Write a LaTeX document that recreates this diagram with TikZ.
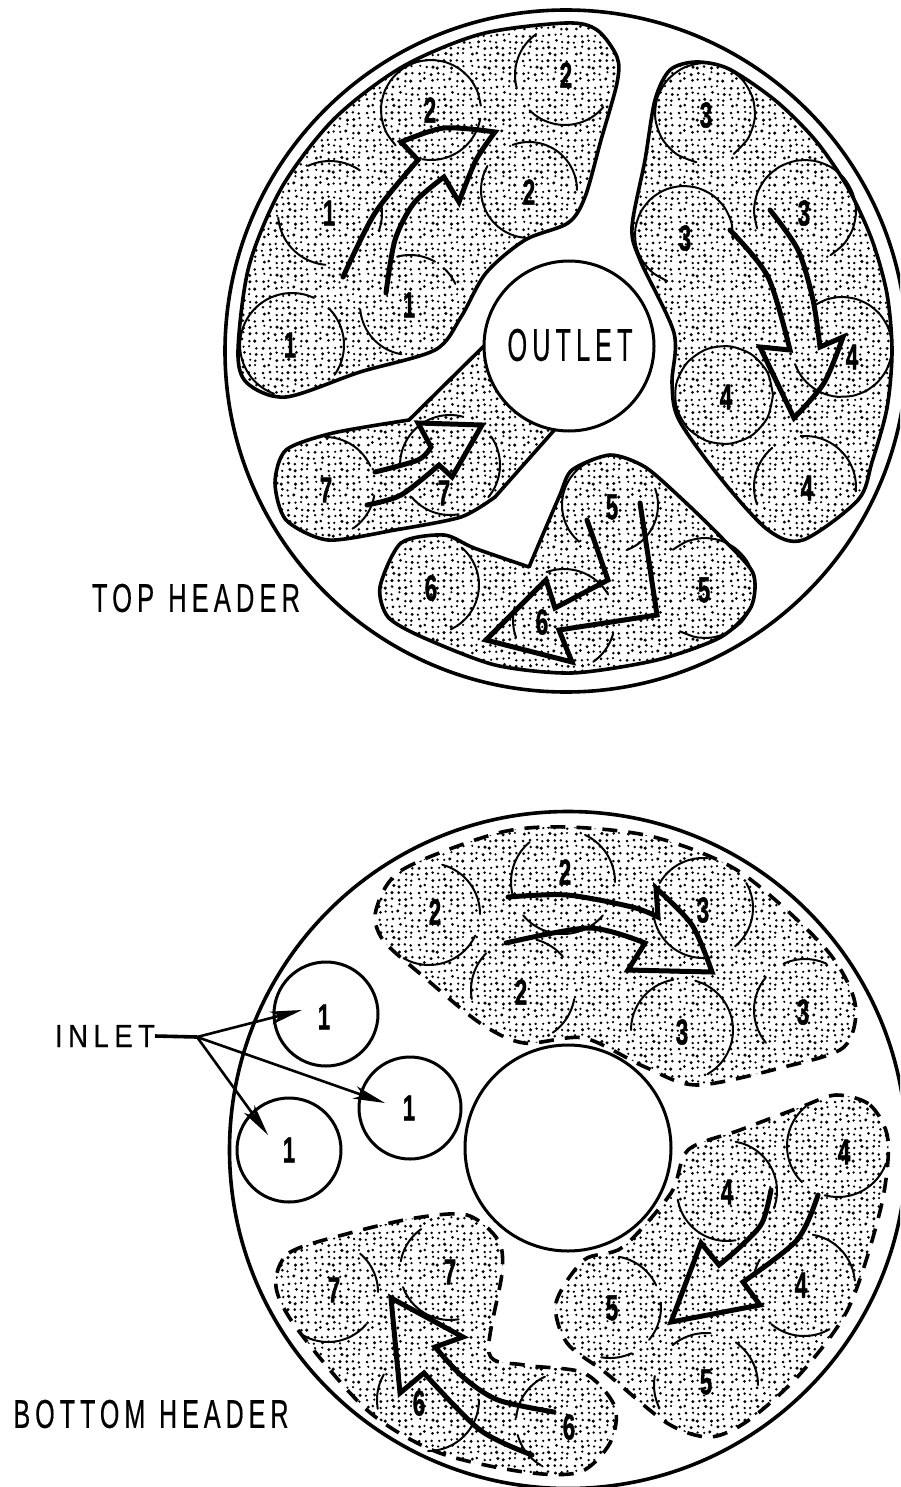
\documentclass[tikz,border=0pt]{standalone}
\usepackage{fontspec}
\usepackage{graphicx}
\usetikzlibrary{patterns,arrows.meta}
\setmainfont{Liberation Sans}
\newfontfamily\lab[LetterSpace=20,FakeBold=0.6]{Liberation Sans}
\newfontfamily\dgf[UprightFont=* Bold,FakeBold=1.4]{Liberation Sans}
% jittered stipple tile
\pgfdeclarepatternformonly{stip}{\pgfqpoint{0pt}{0pt}}{\pgfqpoint{52pt}{52pt}}{\pgfqpoint{52pt}{52pt}}{%
  \pgfmathsetseed{4711}%
  \foreach \i in {0,...,7}{\foreach \j in {0,...,7}{%
    \pgfmathsetmacro{\px}{3.25+6.5*\i+1.4*rand}%
    \pgfmathsetmacro{\py}{3.25+6.5*\j+1.4*rand}%
    \pgfmathsetmacro{\pr}{1.5+0.3*rand}%
    \pgfpathcircle{\pgfqpoint{\px pt}{\py pt}}{\pr pt}%
    \pgfusepath{fill}%
  }}%
}
\tikzset{
  disc/.style={line width=3.6pt},
  zone/.style={pattern=stip,pattern color=black,line width=3.6pt,line join=round},
  dzone/.style={pattern=stip,pattern color=black,line width=3.6pt,dash pattern=on 15pt off 11pt},
  tube/.style={line width=2pt,line cap=round},
  hole/.style={line width=3pt,fill=white},
  flow/.style={line width=5pt,line join=miter,miter limit=6,line cap=round},
  digit/.style={inner sep=0pt,outer sep=0pt},
  title/.style={inner sep=0pt,outer sep=0pt},
  feed/.style={line width=2.6pt,-{Stealth[length=32pt,width=13pt,inset=9pt]}}
}
\newcommand\ca[5]{\draw[tube] plot[smooth,domain=#4:#5,samples=14] ({#1+#3*cos(\x)},{#2-#3*sin(\x)});}
\newcommand\dg[4]{\node[digit] (#1) at (#2,#3) {\fontsize{36}{36}\dgf\scalebox{.62}[1]{#4}};}
\begin{document}
\begin{tikzpicture}[x=1pt,y=-1pt]
\useasboundingbox (0,0) rectangle (900,1487);
\clip (0,0) rectangle (900,1487);
\fill[white] (0,0) rectangle (900,1487);

%%%% TOP HEADER
\draw[disc] (566,351) circle[radius=341];

% zone 1-2
\draw[zone] plot[smooth cycle,tension=.5] coordinates {
 (247,383) (286,397) (360,372) (435,350) (461,317) (486,273) (525,240) (568,223) (585,197)
 (601,140) (617,83) (617,57) (597,30) (566,23) (481,34) (402,67) (334,119) (282,187) (249,266) (238,351)};
% zone 3-4
\draw[zone] plot[smooth cycle,tension=.5] coordinates {
 (696,62) (729,69) (776,101) (816,141) (848,188) (872,240) (887,294) (892,351) (887,408) (872,462) (858,500) (803,540) (768,530)
 (722,480) (679,420) (672,383) (674,333) (640,260) (632,227) (645,160) (655,100) (670,70)};
% zone 7
\draw[zone] plot[smooth,tension=.45] coordinates {
 (495,497) (461,517) (395,530) (328,540) (286,520) (275,483) (286,450) (333,433) (409,420)} -- (490,340) -- (565,418) -- cycle;
% zone 5-6
\draw[zone] plot[smooth,tension=.45] coordinates {
 (529,567) (559,497) (572,470) (610,455) (645,467)
 (683,500) (721,537) (753,573) (751,607) (721,637) (657,660) (572,673) (495,665) (422,637) (388,617)
 (380,587) (401,543) (444,535) (474,548) (529,567)} -- cycle;

% tube arcs, top
\ca{292}{345}{52}{65}{170} \ca{292}{345}{52}{-35}{45} \ca{292}{345}{52}{170}{250}
\ca{410}{305}{50}{60}{105} \ca{410}{305}{50}{25}{45} \ca{410}{305}{50}{185}{260}
\ca{330}{213}{52}{55}{115} \ca{330}{213}{52}{185}{265} \ca{330}{213}{52}{-20}{10}
\ca{431}{110}{50}{5}{225} \ca{431}{110}{50}{-100}{-10}
\ca{565}{75}{50}{125}{195} \ca{565}{75}{50}{225}{320}
\ca{529}{190}{48}{0}{110} \ca{529}{190}{48}{150}{265}
\ca{705}{113}{50}{-55}{260}
\ca{684}{235}{49}{-5}{250}
\ca{805}{211}{51}{-60}{200}
\ca{842}{347}{50}{-95}{125} \ca{842}{347}{50}{200}{265}
\ca{724}{395}{49}{0}{360}
\ca{805}{487}{51}{-5}{95} \ca{805}{487}{51}{130}{200}
\ca{325}{487}{50}{25}{90} \ca{325}{487}{50}{-55}{-10}
\ca{450}{465}{50}{-140}{-80} \ca{450}{465}{50}{-40}{35} \ca{450}{465}{50}{75}{180}
\ca{610}{505}{48}{-70}{20} \ca{610}{505}{48}{110}{230}
\ca{705}{588}{50}{-120}{130}
\ca{430}{585}{49}{-65}{50}
\ca{564}{620}{51}{30}{110} \ca{564}{620}{51}{165}{200} \ca{564}{620}{51}{-55}{-15}

% outlet
\draw[hole] (569,346) circle[radius=85];

% flow arrows, top
\draw[flow] plot[smooth,tension=.5] coordinates {(343,277) (375,213) (418,160)} -- (401,142)
  -- plot[smooth,tension=.5] coordinates {(401,142) (444,128) (495,132)}
  -- plot[smooth,tension=.5] coordinates {(495,132) (476,160) (459,202)}
  -- (444,177) -- plot[smooth,tension=.5] coordinates {(444,177) (414,203) (395,240) (386,293)};
\draw[flow] plot[smooth,tension=.5] coordinates {(730,230) (768,277) (790,350)} -- (760,347) -- (794,418)
  -- plot[smooth,tension=.5] coordinates {(794,418) (824,383) (843,337)}
  -- (820,347) -- plot[smooth,tension=.5] coordinates {(820,347) (813,300) (798,250) (770,210)};
\draw[flow] plot[smooth,tension=.5] coordinates {(367,505) (401,495) (439,465)} -- (452,477) -- (482,425) -- (418,423)
  -- (431,447) -- plot[smooth,tension=.5] coordinates {(431,447) (418,460) (375,472)};
\draw[flow] (587,520) -- (608,580) -- (555,608) -- (546,580) -- (486,640) -- (572,662) -- (559,630) -- (657,615) -- (640,503);

% digits, top
\dg{ta1}{290}{345}{1}\dg{ta2}{409}{305}{1}\dg{ta3}{329}{213}{1}
\dg{tb1}{430}{110}{2}\dg{tb2}{566}{75}{2}\dg{tb3}{529}{192}{2}
\dg{tc1}{706}{115}{3}\dg{tc2}{685}{238}{3}\dg{tc3}{804}{213}{3}
\dg{td1}{852}{357}{4}\dg{td2}{726}{397}{4}\dg{td3}{807}{488}{4}
\dg{te1}{612}{507}{5}\dg{te2}{704}{590}{5}
\dg{tf1}{431}{588}{6}\dg{tf2}{542}{622}{6}
\dg{tg1}{326}{490}{7}\dg{tg2}{444}{493}{7}

\node[title] (outlet) at (570,345) {\resizebox{125pt}{32pt}{\lab OUTLET}};
\node[title] (tophdr) at (196,598) {\resizebox{208pt}{28pt}{\lab TOP\hspace{.55em}HEADER}};

%%%% BOTTOM HEADER
\draw[disc] (568,1150) circle[radius=338.5];

\draw[dzone] plot[smooth cycle,tension=.5] coordinates {
 (376,910) (402,870) (498,833) (567,827) (654,837) (740,872) (825,948) (855,1003) (844,1047)
 (784,1067) (697,1085) (645,1067) (584,1038) (524,1043) (480,1023) (424,977) (383,940)};
\draw[dzone] plot[smooth cycle,tension=.5] coordinates {
 (836,1095) (870,1105) (888,1140) (881,1207) (849,1307) (801,1373) (749,1420) (710,1437) (667,1423)
 (606,1373) (567,1343) (556,1303) (584,1260) (623,1247) (671,1193) (688,1150) (740,1130) (801,1107)};
\draw[dzone] plot[smooth cycle,tension=.5] coordinates {
 (276,1287) (289,1253) (350,1233) (415,1218) (467,1215) (498,1240) (502,1273) (489,1353) (524,1365)
 (584,1373) (615,1407) (610,1443) (580,1472) (524,1472) (437,1452) (367,1410) (298,1330)};

% tube arcs, bottom
\ca{429}{914}{51}{0}{75} \ca{429}{914}{51}{-120}{-25}
\ca{563}{882}{52}{130}{195} \ca{563}{882}{52}{0}{65} \ca{563}{882}{52}{220}{320}
\ca{523}{990}{52}{40}{75} \ca{523}{990}{52}{-55}{-10} \ca{523}{990}{52}{135}{190}
\ca{703}{908}{50}{85}{150} \ca{703}{908}{50}{180}{280} \ca{703}{908}{50}{-50}{30}
\ca{682}{1030}{51}{100}{180} \ca{682}{1030}{51}{-60}{75}
\ca{805}{1010}{51}{65}{115} \ca{805}{1010}{51}{140}{220}
\ca{838}{1146}{51}{130}{225} \ca{838}{1146}{51}{255}{340}
\ca{727}{1191}{50}{-20}{80} \ca{727}{1191}{50}{190}{280}
\ca{804}{1285}{51}{5}{80} \ca{804}{1285}{51}{230}{300} \ca{804}{1285}{51}{150}{170}
\ca{610}{1307}{51}{25}{80} \ca{610}{1307}{51}{-40}{5} \ca{610}{1307}{51}{260}{295}
\ca{706}{1385}{52}{85}{130} \ca{706}{1385}{52}{0}{55} \ca{706}{1385}{52}{170}{205}
\ca{328}{1292}{50}{0}{50} \ca{328}{1292}{50}{240}{320}
\ca{450}{1270}{50}{125}{170} \ca{450}{1270}{50}{200}{280}
\ca{428}{1400}{51}{150}{190} \ca{428}{1400}{51}{-90}{0}
\ca{566}{1422}{50}{115}{175} \ca{566}{1422}{50}{195}{240}

% outlet (no label), inlets
\draw[hole] (568,1148) circle[radius=103];
\draw[line width=3pt] (326,1014) circle[radius=52];
\draw[line width=3pt] (410,1108) circle[radius=51];
\draw[line width=3pt] (289,1150) circle[radius=52];

% flow arrows, bottom
\draw[flow] plot[smooth,tension=.5] coordinates {(508,897) (567,895) (632,907) (658,917)} -- (656,888)
  -- plot[smooth,tension=.5] coordinates {(656,888) (692,925) (712,972)}
  -- (628,970) -- (645,943) -- plot[smooth,tension=.5] coordinates {(645,943) (589,928) (506,943)};
\draw[flow] plot[smooth,tension=.5] coordinates {(771,1190) (762,1223) (740,1247) (719,1265)} -- (701,1243)
  -- (671,1322) -- (760,1305) -- (743,1282) -- plot[smooth,tension=.5] coordinates {(743,1282) (797,1240) (818,1195)};
\draw[flow] plot[smooth,tension=.5] coordinates {(532,1455) (480,1430) (424,1373)} -- (400,1393) -- (391,1298)
  -- (463,1337) -- (435,1347) -- plot[smooth,tension=.5] coordinates {(435,1347) (463,1377) (498,1400) (554,1412)};

% digits, bottom
\dg{ba1}{324}{1017}{1}\dg{ba2}{409}{1108}{1}\dg{ba3}{289}{1150}{1}
\dg{bb1}{435}{912}{2}\dg{bb2}{565}{872}{2}\dg{bb3}{521}{992}{2}
\dg{bc1}{703}{910}{3}\dg{bc2}{682}{1032}{3}\dg{bc3}{803}{1012}{3}
\dg{bd1}{844}{1152}{4}\dg{bd2}{727}{1192}{4}\dg{bd3}{801}{1285}{4}
\dg{be1}{612}{1308}{5}\dg{be2}{706}{1382}{5}
\dg{bf1}{419}{1403}{6}\dg{bf2}{569}{1427}{6}
\dg{bg1}{334}{1290}{7}\dg{bg2}{450}{1272}{7}

\node[title] (inlet) at (105,1036) {\resizebox{100pt}{22pt}{\lab INLET}};
\node[title] (bothdr) at (151,1414) {\resizebox{275pt}{28pt}{\lab BOTTOM\hspace{.55em}HEADER}};

\coordinate (jn) at (197,1037);
\coordinate (tipa) at (302,1010);
\coordinate (tipb) at (385,1103);
\coordinate (tipc) at (268,1135);
\draw[line width=3.6pt] (inlet.east) -- (jn);
\draw[feed] (jn) -- (tipa);
\draw[feed] (jn) -- (tipb);
\draw[feed] (jn) -- (tipc);
\end{tikzpicture}
\end{document}
